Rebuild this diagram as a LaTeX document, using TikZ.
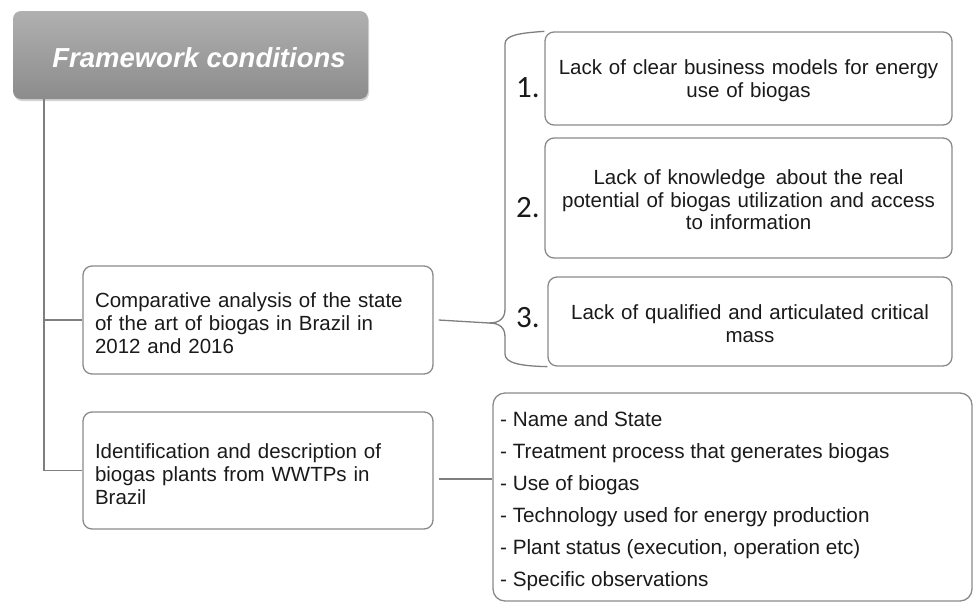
\documentclass[tikz,border=0pt]{standalone}
\usepackage{fontspec}
\setmainfont{Liberation Sans}
\newfontfamily\numfont{Carlito}
\usetikzlibrary{shadows}
\definecolor{edgegray}{HTML}{8A8A8A}
\definecolor{linkgray}{HTML}{7F7F7F}
\definecolor{headtop}{HTML}{B0B0B0}
\definecolor{headbot}{HTML}{8C8C8C}
\definecolor{inkgray}{HTML}{1A1A1A}
% invisible strut that gives the first line of a box a little extra room above
\newcommand\firstlift[1]{\rule{0pt}{#1}}
\begin{document}
\begin{tikzpicture}[x=1pt,y=-1pt,
  headbox/.style={rounded corners=8pt, top color=headtop, bottom color=headbot,
    draw=none, drop shadow={shadow xshift=1pt, shadow yshift=-2pt, opacity=0.35},
    minimum width=355pt, minimum height=88pt, inner sep=0pt},
  leftbox/.style={draw=edgegray, line width=1.3pt, rounded corners=9pt, fill=white,
    minimum width=350pt, inner sep=0pt, text width=326pt, align=left, text=inkgray,
    font=\fontsize{20.5}{23}\selectfont},
  itembox/.style={draw=edgegray, line width=1.3pt, rounded corners=9pt, fill=white,
    inner sep=0pt, text width=395pt, align=center, text=inkgray,
    font=\fontsize{20.5}{22.5}\selectfont},
  numlabel/.style={font=\numfont\fontsize{31}{31}\selectfont, text=inkgray, inner sep=0pt},
  link/.style={draw=linkgray, line width=1.3pt},
]
\useasboundingbox (0,0) rectangle (974,603);

% heading
\node[headbox] (head) at (190.5,55) {};
\node[text=white, font=\fontsize{27.5}{27.5}\selectfont\bfseries\itshape, inner sep=0pt]
  (headtext) at (199,58) {Framework conditions};

% left column boxes
\node[leftbox, minimum height=108pt] (comp) at (258,320)
  {\firstlift{22pt}Comparative analysis of the state\\ of the art of biogas in Brazil in\\ 2012 and 2016};
\node[leftbox, minimum height=117pt] (ident) at (258,470.5)
  {\firstlift{22pt}Identification and description of\\ biogas plants from WWTPs in\\ Brazil};

% tree connector from the heading
\coordinate (stem) at (44,99);
\draw[link] (stem) |- (comp.west);
\draw[link] (stem) |- (ident.west);

% numbered items
\node[itembox, minimum width=407pt, minimum height=93pt] (item1) at (748.5,78.5)
  {\firstlift{19pt}Lack of clear business models for energy\\ use of biogas};
\node[itembox, minimum width=407pt, minimum height=120pt] (item2) at (748.5,198)
  {\firstlift{19pt}Lack of knowledge\, about the real\\ potential of biogas utilization and access\\ to information};
\node[itembox, minimum width=404pt, minimum height=89pt] (item3) at (750,321.5)
  {\firstlift{19pt}Lack of qualified and articulated critical\\ mass};

\node[numlabel] (n1) at (528,88) {1.};
\node[numlabel] (n2) at (528,208) {2.};
\node[numlabel] (n3) at (528,318) {3.};

% brace joining the comparative analysis to the three items
\coordinate (tip) at (489,323);
\draw[link] ([xshift=5pt]comp.east) -- (tip);
\draw[link] (tip) .. controls (500,323) and (505,318) .. (505,309)
  -- (505,44) .. controls (505,35) and (520,33) .. (item1.north west);
\draw[link] (tip) .. controls (500,323) and (505,328) .. (505,337)
  -- (505,354) .. controls (505,363) and (520,366) .. (item3.south west);

% attribute list
\node[draw=edgegray, line width=1.3pt, rounded corners=12pt, fill=white,
  minimum width=479pt, minimum height=208pt, inner sep=0pt] (attrs) at (732.5,497) {};
\node[anchor=north west, inner sep=0pt, text=inkgray, align=left,
  font=\fontsize{20.7}{32}\selectfont] (attrtext) at (500,411)
  {- Name and State\\
   - Treatment process that generates biogas\\
   - Use of biogas\\
   - Technology used for energy production\\
   - Plant status (execution, operation etc)\\
   - Specific observations};
\draw[link] ([xshift=5pt]ident.east |- 0,479) -- (attrs.west |- 0,479);
\end{tikzpicture}
\end{document}
